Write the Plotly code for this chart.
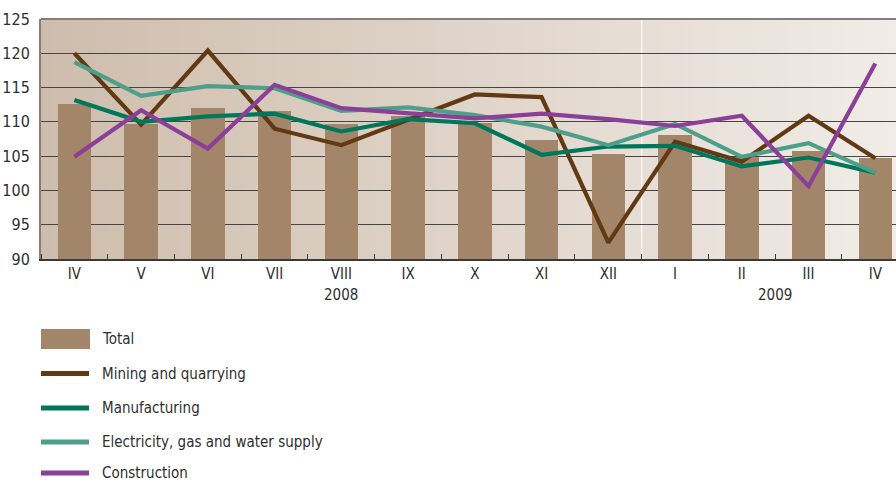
import plotly.graph_objects as go

# Monthly indices, April 2008 - April 2009
months = ["IV", "V", "VI", "VII", "VIII", "IX", "X", "XI", "XII", "I", "II", "III", "IV"]
years = [("2008", 4.0), ("2009", 10.5)]

total = [112.6, 109.7, 112.0, 111.6, 109.7, 110.8, 109.9, 107.4, 105.3, 108.1, 104.9, 105.8, 104.7]
mining = [120.0, 109.6, 120.4, 109.0, 106.6, 110.3, 114.0, 113.6, 92.4, 107.1, 104.2, 110.9, 104.7]
manufacturing = [113.2, 110.0, 110.8, 111.2, 108.6, 110.4, 109.8, 105.2, 106.4, 106.5, 103.5, 104.8, 102.6]
electricity = [118.7, 113.8, 115.2, 114.9, 111.6, 112.1, 111.0, 109.3, 106.6, 109.7, 104.9, 106.9, 102.6]
construction = [104.9, 111.7, 106.1, 115.4, 112.0, 111.2, 110.5, 111.2, 110.4, 109.4, 110.9, 100.6, 118.5]

x = list(range(len(months)))

BAR = "#a3866a"
series = [
    ("Mining and quarrying", mining, "#613913"),
    ("Manufacturing", manufacturing, "#00775a"),
    ("Electricity, gas and water supply", electricity, "#4d9f89"),
    ("Construction", construction, "#8c3f99"),
]

FONT = "Liberation Sans Narrow, DejaVu Sans Condensed, Arial Narrow, sans-serif"
TXT = "#2e2e2e"

W, H = 896, 483
ML, MR, MT, MB = 41, 0, 19, 224
PW, PH = W - ML - MR, H - MT - MB


def px_x(px):
    return (px - ML) / PW


def px_y(py):
    return (H - MB - py) / PH


fig = go.Figure()
fig.add_trace(go.Bar(x=x, y=total, width=0.5, marker=dict(color=BAR, line=dict(width=0)),
                     name="Total", showlegend=False))
for name, vals, col in series:
    fig.add_trace(go.Scatter(x=x, y=vals, mode="lines", name=name, showlegend=False,
                             line=dict(color=col, width=4.2)))

shapes = []
# horizontal background gradient
n = 80
c0 = (206, 189, 172)
c1 = (241, 236, 231)
for i in range(n):
    t = i / (n - 1)
    c = tuple(round(c0[k] + (c1[k] - c0[k]) * t) for k in range(3))
    shapes.append(dict(type="rect", xref="paper", yref="paper", x0=i / n, x1=(i + 1) / n + 0.002,
                       y0=0, y1=1, fillcolor="rgb(%d,%d,%d)" % c, line=dict(width=0), layer="below"))
# year separator
shapes.append(dict(type="line", xref="x", yref="paper", x0=8.5, x1=8.5, y0=0, y1=1,
                   line=dict(color="#f7f4f0", width=1.5), layer="below"))
# top border
shapes.append(dict(type="line", xref="paper", yref="paper", x0=0, x1=1, y0=1, y1=1,
                   line=dict(color="#857d78", width=2)))

annotations = []
for label, xc in years:
    annotations.append(dict(x=xc, y=px_y(295), xref="x", yref="paper", text=label, showarrow=False,
                            font=dict(family=FONT, size=15, color=TXT), xanchor="center", yanchor="middle"))

# legend drawn below the plot
rows = [("Total", None, "bar")] + [(nm, col, "line") for nm, _, col in series]
row_y = [339, 373.5, 408, 442, 473]
for (label, col, kind), ry in zip(rows, row_y):
    if kind == "bar":
        shapes.append(dict(type="rect", xref="paper", yref="paper", x0=px_x(41), x1=px_x(90),
                           y0=px_y(349), y1=px_y(329), fillcolor=BAR, line=dict(width=0)))
    else:
        shapes.append(dict(type="line", xref="paper", yref="paper", x0=px_x(41), x1=px_x(89),
                           y0=px_y(ry), y1=px_y(ry), line=dict(color=col, width=5)))
    annotations.append(dict(x=px_x(101), y=px_y(ry), xref="paper", yref="paper", text=label,
                            showarrow=False, xanchor="left", yanchor="middle", borderpad=0,
                            font=dict(family=FONT, size=15, color=TXT)))

fig.update_layout(
    width=W, height=H,
    margin=dict(l=ML, r=MR, t=MT, b=MB, pad=0),
    paper_bgcolor="white", plot_bgcolor="rgba(0,0,0,0)",
    showlegend=False, bargap=0,
    shapes=shapes, annotations=annotations,
    font=dict(family=FONT, size=15, color=TXT),
)
fig.update_xaxes(range=[-0.5, 12.31], tickmode="array", tickvals=x, ticktext=months, ticks="",
                 showgrid=False, zeroline=False, showline=True, linecolor="#3a3a3a", linewidth=2,
                 ticklabelstandoff=0, tickfont=dict(family=FONT, size=15, color=TXT),
                 minor=dict(ticks="inside", tick0=0.5, dtick=1, ticklen=5, tickwidth=1.3,
                            tickcolor="#3a3a3a", showgrid=False))
fig.update_yaxes(range=[90, 125], tickmode="linear", tick0=90, dtick=5, ticks="",
                 showgrid=True, gridcolor="#454545", gridwidth=1.3, zeroline=False,
                 showline=True, linecolor="#857d78", linewidth=2,
                 ticklabelstandoff=6, tickfont=dict(family=FONT, size=16, color=TXT))

fig.write_html("out.html")
